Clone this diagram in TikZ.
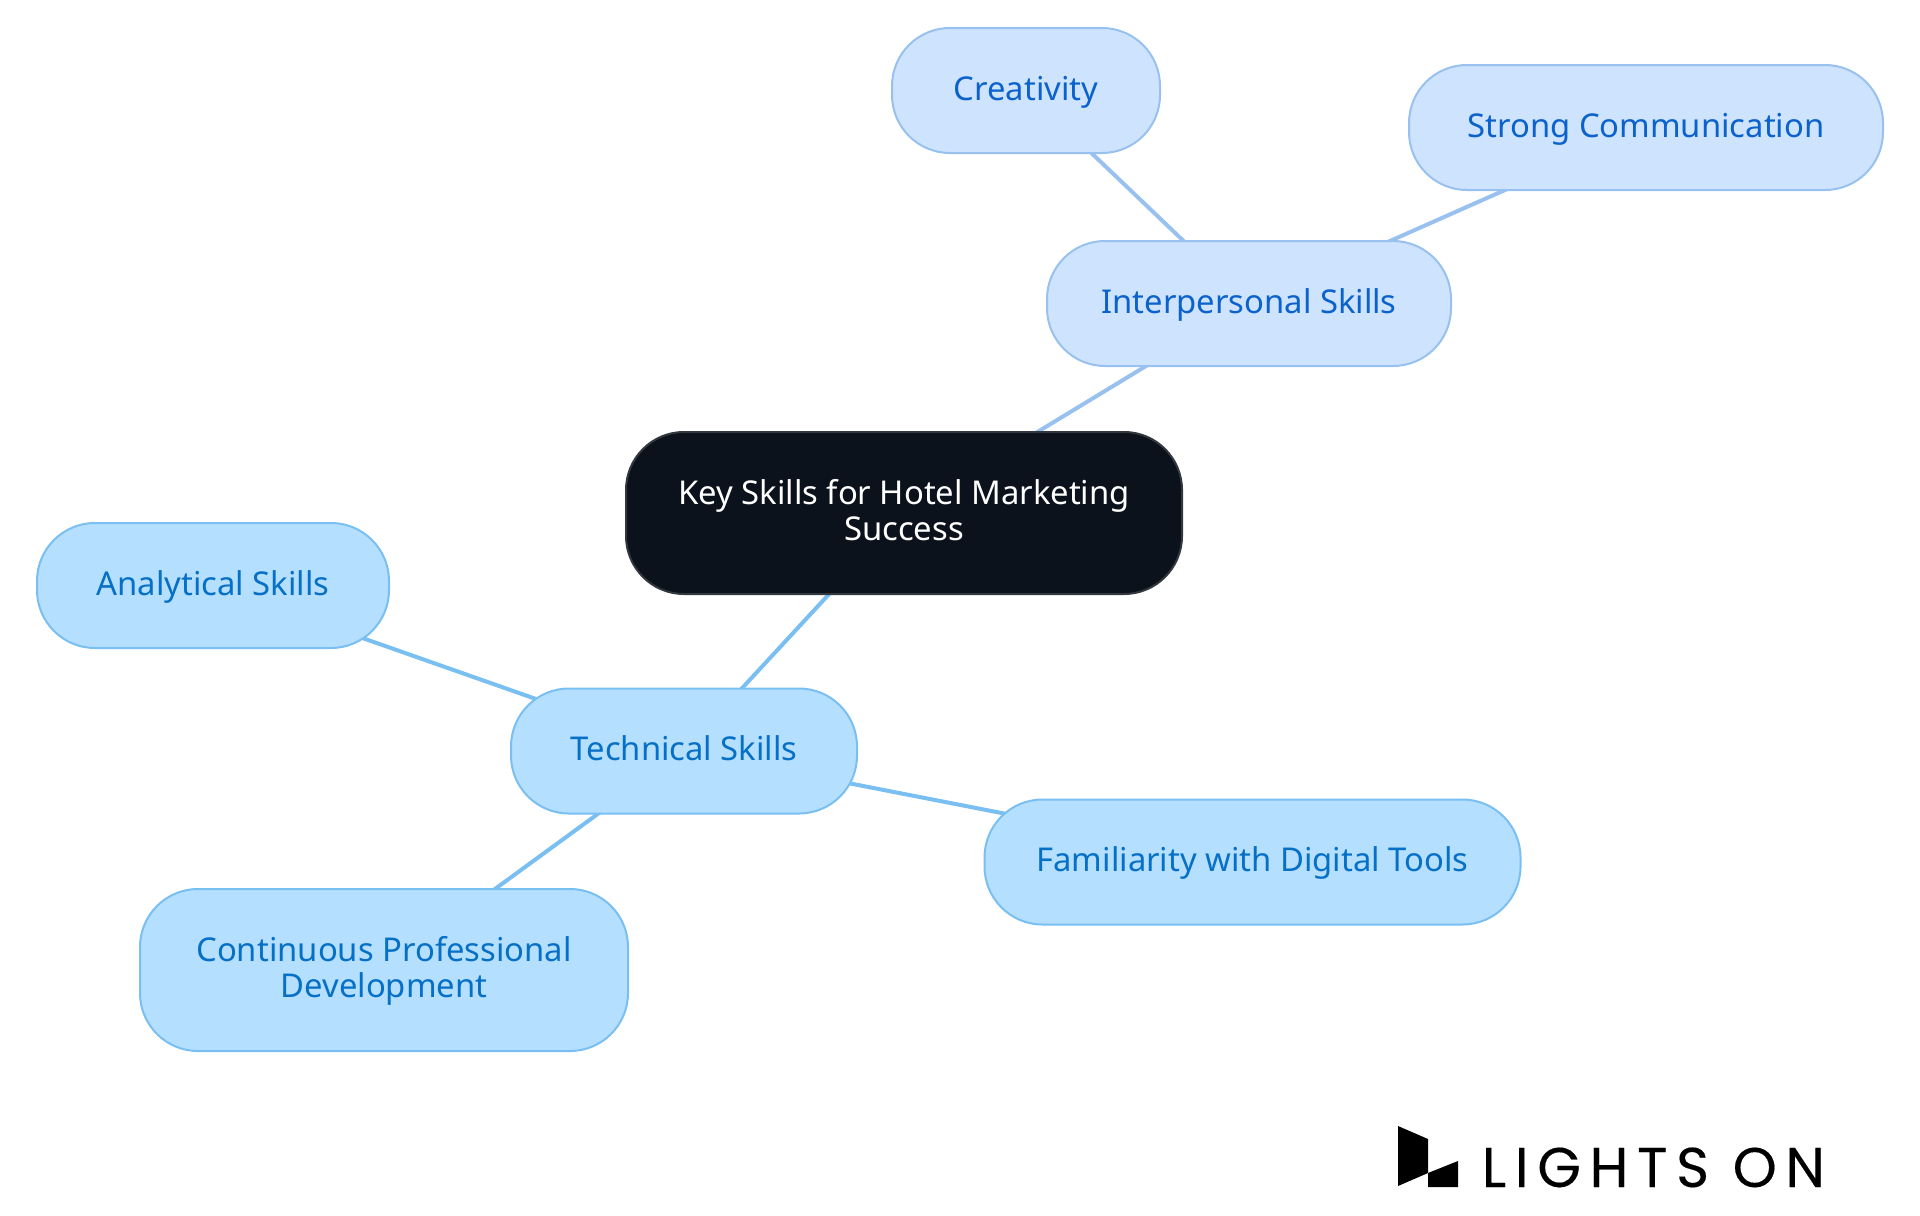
\documentclass[tikz,border=0pt]{standalone}
\usepackage{fontspec}
\usetikzlibrary{backgrounds}
\setmainfont{Noto Sans}
\newfontfamily\logofont[LetterSpace=15.6,FakeBold=0.25]{Poppins}
\definecolor{rootfill}{HTML}{0C121B}
\definecolor{rootline}{HTML}{33383F}
\definecolor{softfill}{HTML}{CEE3FD}
\definecolor{softline}{HTML}{99C1F0}
\definecolor{softtext}{HTML}{0B62CC}
\definecolor{skyfill}{HTML}{B5DFFF}
\definecolor{skyline}{HTML}{7ABFF2}
\definecolor{skytext}{HTML}{0670C6}
\tikzset{
  mapbox/.style={draw, line width=1pt, rounded corners=29pt, align=center,
    inner sep=0pt, text height=12.5pt, text depth=2.7pt,
    font=\fontsize{16.4}{18.35}\selectfont},
  twolines/.style={text height=29.5pt, text depth=1.8pt},
  rootbox/.style={mapbox, fill=rootfill, draw=rootline, text=white},
  softbox/.style={mapbox, fill=softfill, draw=softline, text=softtext},
  skybox/.style={mapbox, fill=skyfill, draw=skyline, text=skytext},
  softlink/.style={draw=softline, line width=2pt},
  skylink/.style={draw=skyline, line width=2pt},
}
\begin{document}
\begin{tikzpicture}[x=0.5pt,y=-0.5pt]
      \useasboundingbox (0,0) rectangle (1920,1215);
      \node[rootbox, twolines, minimum width=278pt, minimum height=81pt] (root) at (904,513) {Key Skills for Hotel Marketing\\Success};
      \node[softbox, minimum width=202pt, minimum height=62.5pt] (inter) at (1249,303.5) {Interpersonal Skills};
      \node[softbox, minimum width=134pt, minimum height=62.5pt] (creat) at (1026,90.5) {Creativity};
      \node[softbox, minimum width=237pt, minimum height=62.5pt] (comm) at (1646,127.5) {Strong Communication};
      \node[skybox, minimum width=173pt, minimum height=62.5pt] (tech) at (684,751) {Technical Skills};
      \node[skybox, minimum width=176pt, minimum height=62.5pt] (anal) at (213,585.5) {Analytical Skills};
      \node[skybox, minimum width=268pt, minimum height=62.5pt] (tools) at (1252.5,862) {Familiarity with Digital Tools};
      \node[skybox, twolines, minimum width=244pt, minimum height=81pt] (dev) at (384,970) {Continuous Professional\\Development};
      \begin{scope}[on background layer]
        \draw[softlink] (root.center) to (inter.center);
        \draw[softlink] (inter.center) to (creat.center);
        \draw[softlink] (inter.center) to (comm.center);
        \draw[skylink] (root.center) to (tech.center);
        \draw[skylink] (tech.center) to (anal.center);
        \draw[skylink] (tech.center) to (tools.center);
        \draw[skylink] (tech.center) to (dev.center);
      \end{scope}
      % logo
      \fill[black] (1398,1126) -- (1428,1139) -- (1428,1173) -- (1398,1186) -- cycle;
      \fill[black] (1428,1173) -- (1458,1161) -- (1458,1187) -- (1428,1187) -- cycle;
      \node[anchor=base west, inner sep=0pt, font=\logofont\fontsize{28}{28}\selectfont] (logo) at (1481.5,1187) {LIGHTS ON};
    \end{tikzpicture}
\end{document}
